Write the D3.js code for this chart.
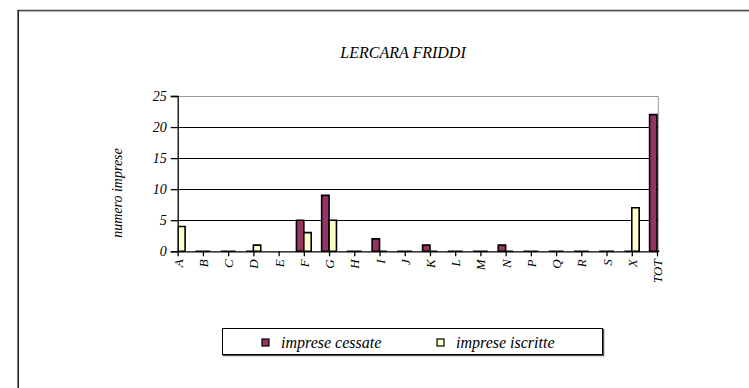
<!DOCTYPE html>
<html><head><meta charset="utf-8">
<script src="https://cdn.jsdelivr.net/npm/d3@7"></script>
<style>body{margin:0;background:#fff}svg{display:block}text{font-family:"Liberation Serif","Times New Roman",serif;font-style:italic;fill:#000}</style>
</head><body>
<script>
const categories = ["A","B","C","D","E","F","G","H","I","J","K","L","M","N","P","Q","R","S","X","TOT"];
const cessate   = [0,0,0,0,null,5,9,0,2,0,1,0,0,1,0,0,0,0,0,22];
const iscritte  = [4,0,0,1,null,3,5,0,0,0,0,0,0,0,0,0,0,0,7,0];
const yTicks = [0,5,10,15,20,25];
const seriesNames = ["imprese cessate","imprese iscritte"];
const colors = ["#993366","#FFFFCC"];
const title = "LERCARA FRIDDI";
const yLabel = "numero imprese";

const FONT='"Liberation Serif","Times New Roman",serif';
const W=749,H=388;
const svg=d3.select("body").append("svg").attr("width",W).attr("height",H);
// outer frame
svg.append("line").attr("x1",18).attr("x2",W).attr("y1",10.5).attr("y2",10.5).attr("stroke","#444").attr("stroke-width",1.5);
svg.append("line").attr("x1",18).attr("x2",W).attr("y1",11.7).attr("y2",11.7).attr("stroke","#bbb").attr("stroke-width",1);
svg.append("line").attr("x1",18.2).attr("x2",18.2).attr("y1",10).attr("y2",H).attr("stroke","#111").attr("stroke-width",1.5);

const x=d3.scalePoint().domain(categories).range([177.7,657]);
const y=d3.scaleLinear().domain([0,25]).range([251.3,96]);
const x0=177.7,x1=658.3;

svg.append("text").attr("x",403).attr("y",58).attr("text-anchor","middle").attr("font-family",FONT).style("font-size","16px").text(title);

// grid
svg.append("g").selectAll("line").data(yTicks.filter(d=>d>0&&d<25)).join("line")
 .attr("x1",x0).attr("x2",x1).attr("y1",d=>Math.round(y(d))+0.5).attr("y2",d=>Math.round(y(d))+0.5).attr("stroke","#000").attr("stroke-width",1);
// plot border top/right gray
svg.append("path").attr("d",`M${x0},${Math.round(y(25))+0.5}H${x1}V${y(0)}`).attr("fill","none").attr("stroke","#999").attr("stroke-width",1);

svg.append("clipPath").attr("id","pc").append("rect").attr("x",x0).attr("y",80).attr("width",x1-x0+1).attr("height",180);
const bw=7.4;
const bars=svg.append("g").attr("clip-path","url(#pc)");
[cessate,iscritte].forEach((vals,si)=>{
  bars.append("g").selectAll("path").data(categories.map((c,i)=>({c,v:vals[i]})).filter(d=>d.v!==null)).join("path")
   .attr("d",d=>{const xl=si===0?x(d.c)-bw:x(d.c);const yt=y(d.v),yb=y(0);return `M${xl},${yb}V${yt}H${xl+bw}V${yb}Z`;})
   .attr("fill",colors[si]).attr("stroke","#000").attr("stroke-width",1.6);
});

// axes
const gy=svg.append("g").attr("transform",`translate(${x0},0)`).call(d3.axisLeft(y).tickValues(yTicks).tickSize(7).tickPadding(4));
gy.attr("font-family",FONT);
gy.select(".domain").attr("stroke","#000").attr("stroke-width",1.3);
gy.selectAll(".tick line").attr("stroke-width",1.3);
gy.selectAll("text").style("font-size","14px").attr("font-family",FONT);
const gx=svg.append("g").attr("transform",`translate(0,${y(0)})`).call(d3.axisBottom(x).tickSize(5).tickSizeOuter(0));
gx.attr("font-family",FONT);
gx.select(".domain").attr("stroke","#000").attr("stroke-width",1.3).attr("d",`M${x0},0.5H${x1}`);
gx.selectAll(".tick line").attr("stroke-width",1.3);
gx.selectAll("text").style("font-size","13px").attr("font-family",FONT)
  .attr("transform","rotate(-90)").attr("text-anchor","end").attr("x",-8).attr("y",0).attr("dy","0.35em");

svg.append("text").attr("transform","translate(122,193) rotate(-90)").attr("text-anchor","middle").attr("font-family",FONT).style("font-size","14px").text(yLabel);

// legend
const lg=svg.append("g");
lg.append("rect").attr("x",223.5).attr("y",329.5).attr("width",380).attr("height",26).attr("fill","none").attr("stroke","#555").attr("stroke-width",1.5);
lg.append("rect").attr("x",222.5).attr("y",328.5).attr("width",380).attr("height",26).attr("fill","#fff").attr("stroke","#000").attr("stroke-width",1);
const lx=[262,437],tx=[281,456];
seriesNames.forEach((n,i)=>{
  lg.append("rect").attr("x",lx[i]).attr("y",339).attr("width",7).attr("height",7).attr("fill",colors[i]).attr("stroke","#000").attr("stroke-width",1.2);
  lg.append("text").attr("x",tx[i]).attr("y",347.5).attr("font-family",FONT).style("font-size","16px").text(n);
});
</script>
</body></html>
